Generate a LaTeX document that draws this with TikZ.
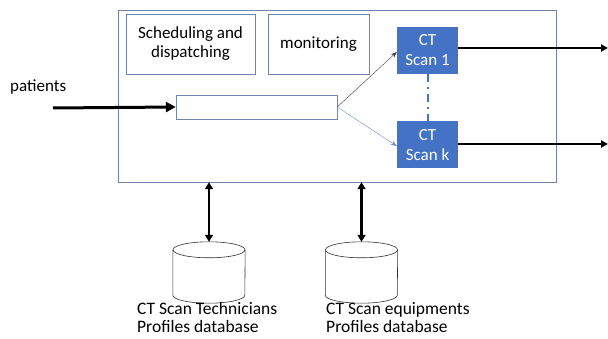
\documentclass[tikz,border=0pt]{standalone}
\usepackage{fontspec}
\setmainfont{Carlito}
\usetikzlibrary{arrows.meta}
\definecolor{scanblue}{HTML}{4472C4}
\definecolor{frame}{HTML}{6F86A8}

\begin{document}
\begin{tikzpicture}[x=1pt, y=-1pt, every node/.style={font=\fontsize{17}{20}\selectfont}]
  \useasboundingbox (0,0) rectangle (608,339);
  \tikzset{
    panel/.style={draw=frame, fill=white, inner sep=0pt},
    scanner/.style={fill=scanblue, text=white, minimum width=61pt, minimum height=47pt, align=center, inner sep=0pt},
    dbbox/.style={minimum width=72pt, minimum height=61pt, inner sep=0pt},
    dbline/.style={draw=black!80, line width=0.6pt},
    flow/.style={line width=3pt, -{Triangle[length=10pt,width=10pt]}},
    link/.style={line width=2.4pt, {Triangle[length=7pt,width=8pt]}-{Triangle[length=7pt,width=8pt]}}
  }

  % System frame
  \node[panel, minimum width=438pt, minimum height=172pt] (system) at (337,96) {};

  % Inner boxes
  \node[panel, minimum width=129pt, minimum height=60pt, align=center,
        font=\fontsize{17}{19}\selectfont] (sched) at (190.5,44) {Scheduling and\\dispatching};
  \node[panel, minimum width=101pt, minimum height=60pt] (monitor) at (318.5,44) {monitoring};
  \node[panel, minimum width=161pt, minimum height=24pt] (queue) at (256.5,107) {};

  % Scanners
  \node[scanner] (scan1) at (427.5,50.5) {CT\\Scan 1};
  \node[scanner] (scank) at (427.5,145) {CT\\Scan k};
  \draw[scanblue, line width=2pt, dash pattern=on 8pt off 5pt on 2pt off 5pt] (scan1) -- (scank);

  % Patients in
  \node[anchor=west, inner sep=0pt] (patients) at (10,87) {patients};
  \coordinate (entry) at (53,108);
  \draw[flow] (entry) -- (queue.west);

  % Dispatching
  \draw[black!75, -{Stealth[length=6pt]}] (queue.east) -- (scan1.west |- 0,52);
  \draw[scanblue!80, -{Stealth[length=6pt]}] (queue.east) -- (scank.west |- 0,146);

  % Outputs
  \coordinate (out1) at (608,48);
  \coordinate (outk) at (608,144);
  \draw[line width=2pt, -{Triangle[length=7pt,width=7pt]}] (scan1.east |- out1) -- (out1);
  \draw[line width=2pt, -{Triangle[length=7pt,width=7pt]}] (scank.east |- outk) -- (outk);

  % Databases
  \node[dbbox] (techdb) at (209,272.5) {};
  \node[dbbox] (equipdb) at (361.5,272.5) {};
  \foreach \db in {techdb, equipdb} {
    \draw[dbline] ([yshift=-8pt]\db.north west) -- ([yshift=8pt]\db.south west)
      arc[start angle=180, end angle=360, x radius=36pt, y radius=8pt]
      -- ([yshift=-8pt]\db.north east);
    \draw[dbline] ([yshift=-8pt]\db.north) ellipse[x radius=36pt, y radius=8pt];
  }
  \draw[link] (techdb.north |- system.south) -- (techdb.north);
  \draw[link] (equipdb.north |- system.south) -- (equipdb.north);
  \node[anchor=north west, align=left, inner sep=0pt,
        font=\fontsize{17.5}{18.5}\selectfont] (techlbl) at (137,302) {CT Scan Technicians\\Profiles database};
  \node[anchor=north west, align=left, inner sep=0pt,
        font=\fontsize{17.5}{18.5}\selectfont] (equiplbl) at (326,302) {CT Scan equipments\\Profiles database};

\end{tikzpicture}
\end{document}
